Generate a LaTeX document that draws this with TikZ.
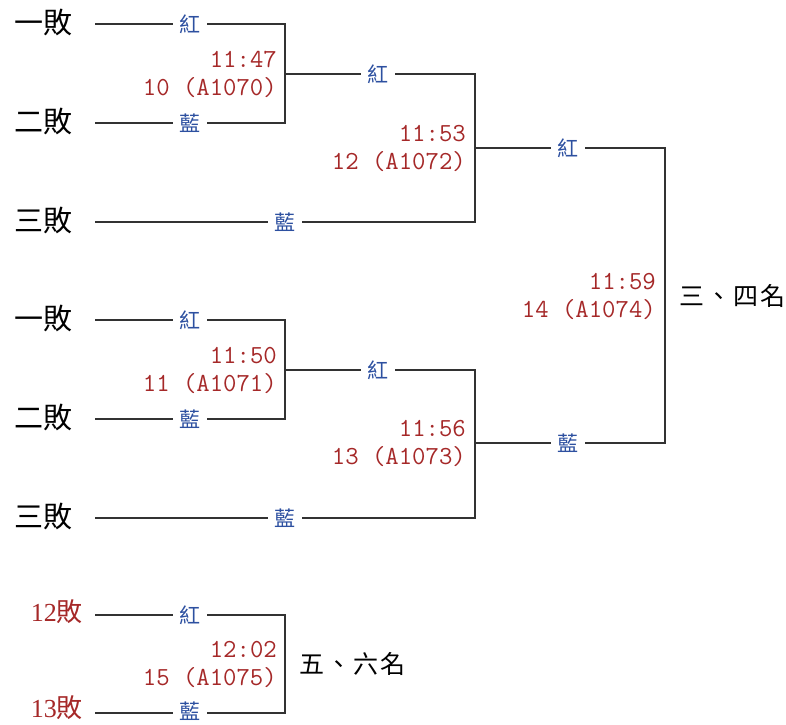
\documentclass[tikz,border=0pt]{standalone}
\usepackage{fontspec}
\newfontfamily\cjk{Noto Sans CJK TC}
\newfontfamily\numf{Liberation Serif}
\definecolor{sideblue}{RGB}{45,80,160}
\definecolor{infored}{RGB}{165,40,40}
\definecolor{linegray}{RGB}{50,50,50}
\tikzset{
  bline/.style={draw=linegray, line width=1.3pt},
  team/.style={font=\cjk\fontsize{29}{29}\selectfont, anchor=east, inner sep=0pt},
  teamred/.style={font=\fontsize{26}{26}\selectfont, text=infored, anchor=east, inner sep=0pt},
  side/.style={font=\cjk\fontsize{21}{21}\selectfont, text=sideblue, inner xsep=6.5pt, inner ysep=2pt},
  info/.style={font=\ttfamily\fontsize{26}{28}\selectfont, text=infored, align=right, anchor=east, inner sep=0pt},
  place/.style={font=\cjk\fontsize{25}{25}\selectfont, anchor=west, inner sep=0pt},
}
\begin{document}
\begin{tikzpicture}[x=1pt,y=-1pt]
\useasboundingbox (0,0) rectangle (786,724);

% ---------- group 1 ----------
\node[team] (t1) at (73,22) {一敗};
\node[team] (t2) at (73,121) {二敗};
\node[team] (t3) at (73,220) {三敗};
\coordinate (s1) at (95,24);
\coordinate (s2) at (95,123);
\coordinate (s3) at (95,222);
\coordinate (m10t) at (285,24);
\coordinate (m10b) at (285,123);
\coordinate (m10o) at (285,74);
\coordinate (m12t) at (475,74);
\coordinate (m12b) at (475,222);
\coordinate (m12o) at (475,148);
\node[side] (r10) at (190,24) {紅};
\node[side] (b10) at (190,123) {藍};
\node[side] (r12) at (378,74) {紅};
\node[side] (b12) at (285,222) {藍};
\node[info] (i10) at (277,74) {11:47\\10 (A1070)};
\node[info] (i12) at (466,148) {11:53\\12 (A1072)};
\draw[bline] (s1) -- (r10);
\draw[bline] (r10) -- (m10t) -- (m10b) -- (b10);
\draw[bline] (b10) -- (s2);
\draw[bline] (m10o) -- (r12);
\draw[bline] (r12) -- (m12t) -- (m12b) -- (b12);
\draw[bline] (b12) -- (s3);

% ---------- group 2 ----------
\node[team] (t4) at (73,318) {一敗};
\node[team] (t5) at (73,417) {二敗};
\node[team] (t6) at (73,516) {三敗};
\coordinate (s4) at (95,320);
\coordinate (s5) at (95,419);
\coordinate (s6) at (95,518);
\coordinate (m11t) at (285,320);
\coordinate (m11b) at (285,419);
\coordinate (m11o) at (285,370);
\coordinate (m13t) at (475,370);
\coordinate (m13b) at (475,518);
\coordinate (m13o) at (475,443);
\node[side] (r11) at (190,320) {紅};
\node[side] (b11) at (190,419) {藍};
\node[side] (r13) at (378,370) {紅};
\node[side] (b13) at (285,518) {藍};
\node[info] (i11) at (277,370) {11:50\\11 (A1071)};
\node[info] (i13) at (466,443) {11:56\\13 (A1073)};
\draw[bline] (s4) -- (r11);
\draw[bline] (r11) -- (m11t) -- (m11b) -- (b11);
\draw[bline] (b11) -- (s5);
\draw[bline] (m11o) -- (r13);
\draw[bline] (r13) -- (m13t) -- (m13b) -- (b13);
\draw[bline] (b13) -- (s6);

% ---------- final 3/4 ----------
\coordinate (m14t) at (665,148);
\coordinate (m14b) at (665,443);
\node[side] (r14) at (568,148) {紅};
\node[side] (b14) at (568,443) {藍};
\node[info] (i14) at (656,296) {11:59\\14 (A1074)};
\node[place] (p34) at (679,296) {三\hspace{2pt}、\hspace{2pt}四\hspace{2pt}名};
\draw[bline] (m12o) -- (r14);
\draw[bline] (r14) -- (m14t) -- (m14b) -- (b14);
\draw[bline] (b14) -- (m13o);

% ---------- 5/6 ----------
\node[teamred] (t7) at (83,612) {{\numf 12}{\cjk 敗}};
\node[teamred] (t8) at (83,708) {{\numf 13}{\cjk 敗}};
\coordinate (s7) at (95,615);
\coordinate (s8) at (95,713);
\coordinate (m15t) at (285,615);
\coordinate (m15b) at (285,713);
\node[side] (r15) at (190,615) {紅};
\node[side] (b15) at (190,711) {藍};
\node[info] (i15) at (277,664) {12:02\\15 (A1075)};
\node[place] (p56) at (299,664) {五\hspace{2pt}、\hspace{2pt}六\hspace{2pt}名};
\draw[bline] (s7) -- (r15);
\draw[bline] (r15) -- (m15t) -- (m15b) -- (b15.east |- m15b);
\draw[bline] (b15.west |- s8) -- (s8);
\end{tikzpicture}
\end{document}
